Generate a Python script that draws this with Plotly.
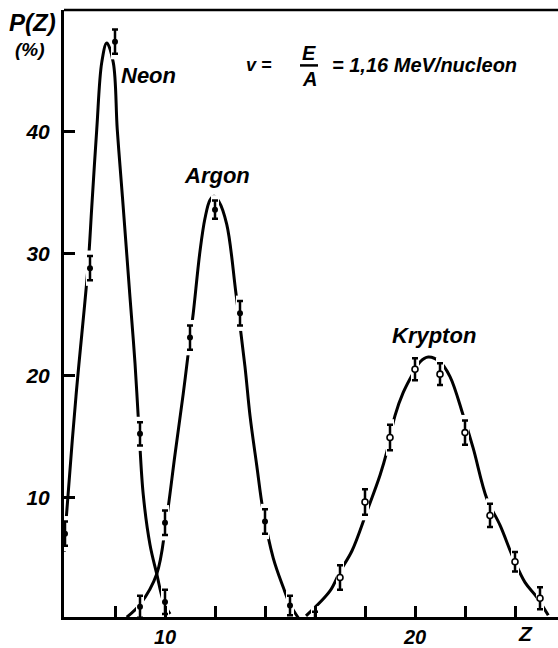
import plotly.graph_objects as go

# Fitted charge-state distributions (curves), Z vs P(Z) in %
neon_curve_z = [5.97, 6.04, 6.44, 6.92, 7.07, 7.27, 7.47, 7.67, 7.93, 8.09, 8.3, 8.6, 8.8, 8.96, 9.13, 9.4, 9.67, 9.93, 10.2]
neon_curve_p = [5.5, 8.0, 18.3, 28.9, 33.8, 40.2, 45.7, 47.3, 45.7, 40.2, 34.6, 26.4, 21.0, 15.5, 10.2, 6.1, 3.7, 1.5, 0.4]

argon_curve_z = [8.47, 9.0, 9.67, 10.04, 10.4, 10.73, 11.0, 11.13, 11.4, 11.6, 11.8, 11.96, 12.15, 12.47, 12.84, 13.2, 13.4, 13.67, 13.93, 14.33, 14.73, 15.0, 15.33]
argon_curve_p = [0.15, 1.2, 3.7, 7.9, 13.5, 18.5, 23.0, 25.1, 30.2, 32.9, 34.4, 34.7, 34.3, 32.4, 26.7, 20.7, 16.7, 12.6, 8.8, 5.0, 2.6, 1.2, 0.1]

krypton_curve_z = [15.64, 16.6, 17.0, 17.48, 18.07, 18.6, 18.87, 19.2, 19.53, 19.93, 20.2, 20.53, 21.0, 21.4, 21.93, 22.33, 22.87, 23.4, 23.93, 24.4, 24.87, 25.33]
krypton_curve_p = [0.25, 2.3, 3.9, 5.6, 8.8, 11.8, 13.7, 16.7, 18.6, 20.2, 21.1, 21.5, 21.1, 19.9, 16.7, 14.0, 9.9, 7.7, 5.0, 3.0, 1.8, 0.3]

# Measured points with uncertainties
neon_z = [6, 7, 8, 9, 10]
neon_p = [7.0, 28.8, 47.4, 15.2, 1.4]
neon_err = [1.0, 1.0, 1.0, 0.95, 1.0]

argon_z = [9, 10, 11, 12, 13, 14, 15]
argon_p = [1.0, 7.9, 23.1, 33.6, 25.1, 8.0, 1.1]
argon_err = [0.9, 1.0, 1.0, 0.75, 1.0, 1.0, 0.8]

krypton_z = [16, 17, 18, 19, 20, 21, 22, 23, 24, 25]
krypton_p = [-0.2, 3.4, 9.6, 14.9, 20.5, 20.1, 15.3, 8.5, 4.7, 1.7]
krypton_err = [0.8, 1.0, 1.05, 1.05, 0.9, 0.9, 1.0, 0.95, 0.8, 0.9]

x_tick_vals = [8, 10, 12, 14, 16, 18, 20, 22, 24]
x_tick_text = ["", "10", "", "", "", "", "20", "", ""]
y_tick_vals = [10, 20, 30, 40]
y_tick_text = ["10", "20", "30", "40"]

FONT = "Liberation Sans"
INK = "black"


def ifont(size):
    return dict(family=FONT, size=size, color=INK, style="italic", weight="bold")


fig = go.Figure()

# Smooth curves
for cz, cp in [(neon_curve_z, neon_curve_p), (argon_curve_z, argon_curve_p), (krypton_curve_z, krypton_curve_p)]:
    fig.add_trace(go.Scatter(
        x=cz, y=cp, mode="lines",
        line=dict(color=INK, width=3, shape="spline", smoothing=1.0),
        hoverinfo="skip", showlegend=False,
    ))

# White strokes that break the curves where each error bar sits
for z, p, e in [(neon_z, neon_p, neon_err), (argon_z, argon_p, argon_err), (krypton_z, krypton_p, krypton_err)]:
    fig.add_trace(go.Scatter(
        x=z, y=p, mode="markers",
        marker=dict(size=1, color="white"),
        error_y=dict(type="data", array=[v + 0.45 for v in e], color="white", thickness=8, width=0),
        hoverinfo="skip", showlegend=False,
    ))

# Data points with error bars
fig.add_trace(go.Scatter(
    x=neon_z, y=neon_p, mode="markers",
    marker=dict(size=6, color=INK),
    error_y=dict(type="data", array=neon_err, color=INK, thickness=2.5, width=3),
    showlegend=False,
))
fig.add_trace(go.Scatter(
    x=argon_z, y=argon_p, mode="markers",
    marker=dict(size=6, color=INK),
    error_y=dict(type="data", array=argon_err, color=INK, thickness=2.5, width=3),
    showlegend=False,
))
fig.add_trace(go.Scatter(
    x=krypton_z, y=krypton_p, mode="markers",
    marker=dict(size=6, color="white", line=dict(color=INK, width=1.6)),
    error_y=dict(type="data", array=krypton_err, color=INK, thickness=2.5, width=3),
    showlegend=False,
))

annotations = [
    dict(x=9.32, y=44.6, text="Neon", showarrow=False, font=ifont(22), xanchor="center", yanchor="middle"),
    dict(x=12.08, y=36.4, text="Argon", showarrow=False, font=ifont(22), xanchor="center", yanchor="middle"),
    dict(x=20.76, y=23.3, text="Krypton", showarrow=False, font=ifont(22), xanchor="center", yanchor="middle"),
    # v = E/A = 1,16 MeV/nucleon
    dict(x=13.75, y=45.5, text="v =", showarrow=False, font=ifont(18), xanchor="center", yanchor="middle"),
    dict(x=15.76, y=46.5, text="E", showarrow=False, font=ifont(20), xanchor="center", yanchor="middle"),
    dict(x=15.76, y=44.3, text="A", showarrow=False, font=ifont(20), xanchor="center", yanchor="middle"),
    dict(x=16.6, y=45.5, text="= 1,16 MeV/nucleon", showarrow=False, font=ifont(20),
         xanchor="left", yanchor="middle"),
    # axis titles
    dict(x=-0.063, y=0.979, xref="paper", yref="paper", text="P(Z)", showarrow=False,
         font=ifont(24), xanchor="center", yanchor="middle"),
    dict(x=-0.068, y=0.935, xref="paper", yref="paper", text="(%)", showarrow=False,
         font=ifont(19), xanchor="center", yanchor="middle"),
    dict(x=24.4, y=0, xref="x", yref="paper", text="Z", showarrow=False,
         font=ifont(21), xanchor="center", yanchor="top", yshift=-3),
]

shapes = [
    # fraction bar of E/A
    dict(type="line", xref="x", yref="y", x0=15.4, x1=16.12, y0=45.45, y1=45.45, line=dict(color=INK, width=2.5)),
    # top frame line
    dict(type="line", xref="paper", yref="paper", x0=0, x1=1, y0=1, y1=1, line=dict(color=INK, width=2.5)),
]

fig.update_layout(
    width=558, height=648,
    margin=dict(l=64, r=0, t=10, b=25),
    paper_bgcolor="white", plot_bgcolor="white",
    annotations=annotations, shapes=shapes,
    xaxis=dict(
        range=[5.96, 25.72], showgrid=False, zeroline=False,
        showline=True, linecolor=INK, linewidth=3,
        ticks="inside", ticklen=11, tickwidth=2.5, tickcolor=INK,
        tickvals=x_tick_vals, ticktext=x_tick_text,
        tickfont=ifont(20),
    ),
    yaxis=dict(
        range=[0.16, 50.0], showgrid=False, zeroline=False,
        showline=True, linecolor=INK, linewidth=3,
        ticks="inside", ticklen=11, tickwidth=2.5, tickcolor=INK,
        tickvals=y_tick_vals, ticktext=y_tick_text, ticklabelstandoff=7,
        tickfont=ifont(21),
    ),
)

fig.write_html("out.html")
